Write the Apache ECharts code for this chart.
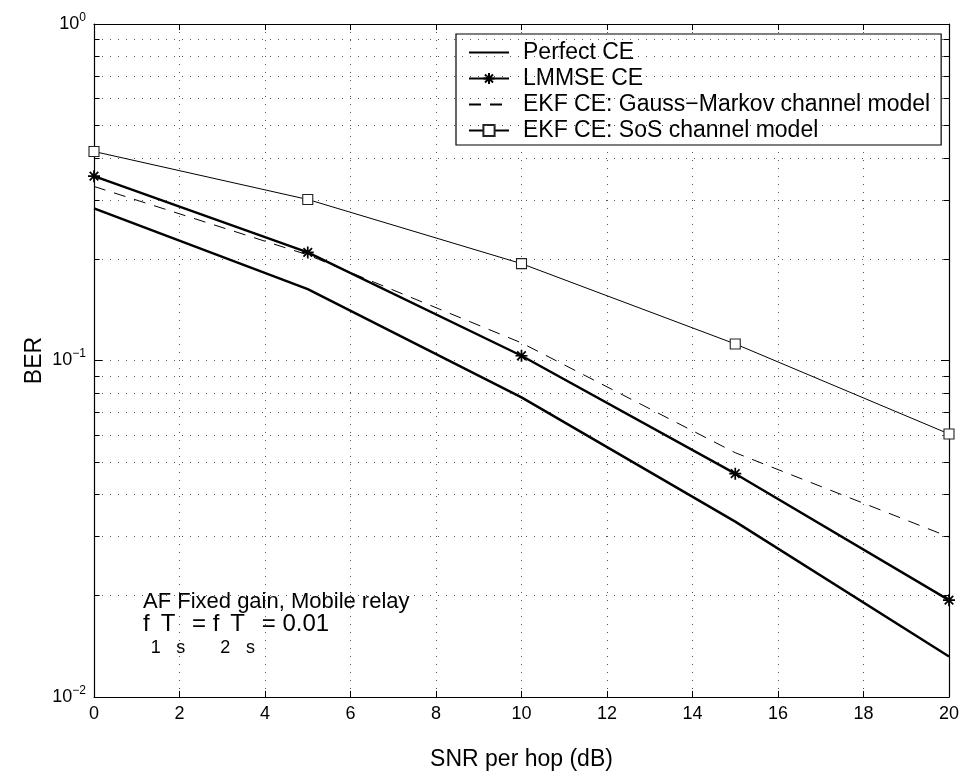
<!DOCTYPE html>
<html>
<head>
<meta charset="utf-8">
<script src="https://cdn.jsdelivr.net/npm/echarts@6/dist/echarts.min.js"></script>
<style>
  html, body { margin: 0; padding: 0; background: #fff; }
  #chart { width: 968px; height: 776px; }
</style>
</head>
<body>
<div id="chart"></div>
<script>
// SNR per hop (dB)
const snr = [0, 5, 10, 15, 20];

// Bit error rate for each channel-estimation scheme
const perfectCE = [0.283, 0.163, 0.0777, 0.0332, 0.0132];
const lmmseCE = [0.353, 0.2095, 0.1033, 0.0461, 0.0194];
const ekfGaussMarkov = [0.329, 0.206, 0.1128, 0.0532, 0.0299];
const ekfSoS = [0.418, 0.301, 0.194, 0.112, 0.0605];

// Axis ticks
const xTicks = [0, 2, 4, 6, 8, 10, 12, 14, 16, 18, 20];
const yDecades = [0.01, 0.1, 1];
const yMinor = [0.02, 0.03, 0.04, 0.05, 0.06, 0.07, 0.08, 0.09,
                0.2, 0.3, 0.4, 0.5, 0.6, 0.7, 0.8, 0.9];

const FONT = "'Liberation Sans', Arial, Helvetica, sans-serif";
const gridDots = { color: '#555', width: 1, type: [1, 7] };
const starPath = 'path://M0,-6L0,6M-6,0L6,0M-4.3,-4.3L4.3,4.3M-4.3,4.3L4.3,-4.3';
const hiddenMark = { color: 'none', borderColor: 'none', borderWidth: 0 };

const pair = (xs, ys) => xs.map((x, i) => [x, ys[i]]);

const chart = echarts.init(document.getElementById('chart'), null, { renderer: 'canvas' });

function supLabel(v) {
  const e = Math.round(Math.log10(v));
  return '{b|10}{s|' + (e < 0 ? '\u2212' + (-e) : e) + '}';
}

const minorLines = yMinor.map(v => ({ yAxis: v }));
const tickLen = 0.13;
const minorTicksLeft = yMinor.map(v => [{ coord: [0, v] }, { coord: [tickLen, v] }]);
const minorTicksRight = yMinor.map(v => [{ coord: [20 - tickLen, v] }, { coord: [20, v] }]);

chart.setOption({
  backgroundColor: '#fff',
  animation: false,
  textStyle: { fontFamily: FONT },
  grid: { left: 94, right: 19, top: 24, bottom: 77, containLabel: false },
  xAxis: [
    {
      type: 'value', min: 0, max: 20, interval: 2,
      name: 'SNR per hop (dB)', nameLocation: 'middle', nameGap: 51, nameMoveOverlap: false,
      nameTextStyle: { fontSize: 23, color: '#000', fontFamily: FONT },
      axisLine: { show: true, lineStyle: { color: '#000', width: 1.2 } },
      axisTick: { show: true, inside: true, length: 6, lineStyle: { color: '#000' } },
      axisLabel: { fontSize: 18, color: '#000', margin: 8, fontFamily: FONT },
      splitLine: { show: true, lineStyle: gridDots }
    },
    {
      type: 'value', min: 0, max: 20, interval: 2, position: 'top',
      axisLine: { show: true, lineStyle: { color: '#000', width: 1.2 } },
      axisTick: { show: true, inside: true, length: 6, lineStyle: { color: '#000' } },
      axisLabel: { show: false },
      splitLine: { show: false }
    }
  ],
  yAxis: [
    {
      type: 'log', logBase: 10, min: 0.01, max: 1,
      name: 'BER', nameLocation: 'middle', nameGap: 48, nameRotate: 90, nameMoveOverlap: false,
      nameTextStyle: { fontSize: 23, color: '#000', fontFamily: FONT },
      axisLine: { show: true, onZero: false, lineStyle: { color: '#000', width: 1.2 } },
      axisTick: { show: true, inside: true, length: 8, lineStyle: { color: '#000' } },
      axisLabel: {
        margin: 8, color: '#000',
        formatter: v => supLabel(v),
        rich: {
          b: { fontSize: 18, fontFamily: FONT, color: '#000' },
          s: { fontSize: 12, fontFamily: FONT, color: '#000', padding: [0, 0, 13, 0] }
        }
      },
      splitLine: { show: true, lineStyle: gridDots }
    },
    {
      type: 'log', logBase: 10, min: 0.01, max: 1, position: 'right',
      axisLine: { show: true, onZero: false, lineStyle: { color: '#000', width: 1.2 } },
      axisTick: { show: true, inside: true, length: 8, lineStyle: { color: '#000' } },
      axisLabel: { show: false },
      splitLine: { show: false }
    }
  ],
  legend: {
    orient: 'vertical',
    left: 456, top: 34,
    padding: [7, 11, 3, 12],
    itemGap: 3,
    itemWidth: 40,
    itemHeight: 14,
    backgroundColor: '#fff',
    borderColor: '#000',
    borderWidth: 1.2,
    borderRadius: 0,
    textStyle: { fontSize: 23, color: '#000', fontFamily: FONT, padding: [0, 0, 0, 9], lineHeight: 22 },
    data: ['Perfect CE', 'LMMSE CE', 'EKF CE: Gauss\u2212Markov channel model', 'EKF CE: SoS channel model']
  },
  series: [
    {
      name: 'grid-minor', type: 'line', data: [], silent: true,
      markLine: {
        silent: true, symbol: 'none', label: { show: false },
        lineStyle: gridDots,
        data: minorLines
      }
    },
    {
      name: 'minor-ticks', type: 'line', data: [], silent: true,
      markLine: {
        silent: true, symbol: 'none', label: { show: false },
        lineStyle: { color: '#000', width: 1, type: 'solid' },
        data: minorTicksLeft.concat(minorTicksRight)
      }
    },
    {
      name: 'Perfect CE', type: 'line', data: pair(snr, perfectCE),
      showSymbol: false, symbol: 'circle',
      lineStyle: { color: '#000', width: 2.4 }, itemStyle: hiddenMark, z: 5
    },
    {
      name: 'LMMSE CE', type: 'line', data: pair(snr, lmmseCE),
      symbol: starPath, symbolSize: 12, showSymbol: true,
      lineStyle: { color: '#000', width: 2.4 },
      itemStyle: { color: 'none', borderColor: '#000', borderWidth: 1.7 }, z: 6
    },
    {
      name: 'EKF CE: Gauss\u2212Markov channel model', type: 'line', data: pair(snr, ekfGaussMarkov),
      symbol: 'circle', showSymbol: false,
      lineStyle: { color: '#000', width: 1, type: [12, 9] }, itemStyle: hiddenMark, z: 4
    },
    {
      name: 'EKF CE: SoS channel model', type: 'line', data: pair(snr, ekfSoS),
      symbol: 'rect', symbolSize: 10, showSymbol: true,
      lineStyle: { color: '#000', width: 1 },
      itemStyle: { color: '#fff', borderColor: '#222', borderWidth: 1.1 }, z: 5
    }
  ],
  graphic: [
    {
      type: 'text', left: 143, top: 591,
      style: {
        text: 'AF Fixed gain, Mobile relay',
        fontSize: 22, fontFamily: FONT, fill: '#000'
      }
    },
    {
      type: 'text', left: 143, top: 612,
      style: {
        text: '{m|f}{sub|1}{m|T}{sub|s}{m| = f}{sub|2}{m|T}{sub|s}{m| = 0.01}',
        fontFamily: FONT, fill: '#000',
        rich: {
          m: { fontSize: 24, fontFamily: FONT, fill: '#000', verticalAlign: 'top' },
          sub: { fontSize: 18, fontFamily: FONT, fill: '#000', verticalAlign: 'bottom', padding: [27, 0, 0, 1] }
        }
      }
    }
  ]
});
</script>
</body>
</html>
